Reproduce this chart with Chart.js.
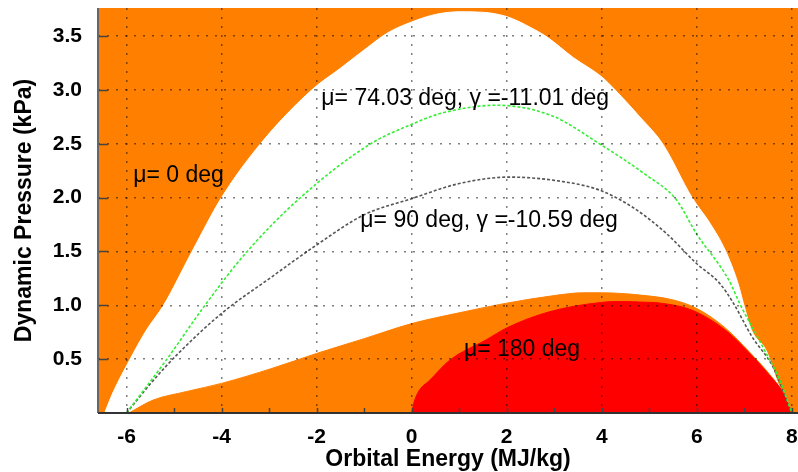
<!DOCTYPE html>
<html>
<head>
<meta charset="utf-8">
<script src="https://cdn.jsdelivr.net/npm/chart.js@4/dist/chart.umd.min.js"></script>
<style>
  html, body { margin: 0; padding: 0; background: #fff; }
  canvas { display: block; }
</style>
</head>
<body>
<canvas id="myChart" width="798" height="472"></canvas>
<script>
// μ = 0 deg envelope (upper edge of the white corridor)
const envX = [-6.46, -6.29, -5.9, -5.58, -5.22, -4.62, -4.0, -3.18, -2.1, -1.5, -1.0, -0.5, 0, 0.5, 1.0, 1.5, 2.0, 2.5, 2.85, 3.4, 4.0, 4.28, 4.8, 5.28, 5.9, 6.28, 6.6, 6.87, 6.98, 7.15, 7.46, 7.71, 7.92, 8.0];
const envY = [0, 0.185, 0.52, 0.77, 1.0, 1.5, 2.0, 2.5, 3.0, 3.2, 3.37, 3.53, 3.63, 3.7, 3.725, 3.72, 3.68, 3.58, 3.49, 3.3, 3.12, 3.0, 2.75, 2.5, 2.0, 1.76, 1.51, 1.2, 1.02, 0.77, 0.58, 0.275, 0.09, 0];

// lower edge of the white corridor
const floorX = [-5.95, -5.44, -4.73, -4.0, -2.94, -2.0, -1.0, 0, 1.0, 2.0, 3.0, 3.6, 4.0, 4.8, 5.5, 6.0, 6.6, 7.1, 7.55, 7.8, 8.0];
const floorY = [0, 0.12, 0.2, 0.275, 0.414, 0.553, 0.69, 0.83, 0.93, 1.02, 1.09, 1.116, 1.116, 1.095, 1.05, 0.97, 0.79, 0.57, 0.35, 0.2, 0];

// μ = 180 deg region
const retroX = [0, 0.05, 0.16, 0.37, 0.8, 1.57, 2.0, 2.9, 4.0, 4.5, 4.8, 5.24, 5.9, 6.6, 7.1, 7.55, 7.8, 8.0];
const retroY = [0, 0.1, 0.21, 0.3, 0.49, 0.68, 0.79, 0.94, 1.027, 1.035, 1.03, 1.02, 0.955, 0.77, 0.56, 0.34, 0.2, 0];

// μ = 74.03 deg, γ = -11.01 deg
const greenX = [-6.0, -5.15, -4.35, -3.5, -2.34, -0.86, 0, 0.6, 1.78, 2.95, 3.95, 4.9, 5.57, 5.99, 6.68, 6.9, 7.43, 7.75, 8.0];
const greenY = [0, 0.5, 1.0, 1.48, 2.0, 2.5, 2.68, 2.78, 2.857, 2.76, 2.5, 2.22, 1.98, 1.667, 1.23, 1.02, 0.58, 0.3, 0];

// μ = 90 deg, γ = -10.59 deg
const grayX = [-6.0, -5.44, -4.94, -4.0, -2.94, -2.0, -1.0, 0, 1.0, 2.05, 3.0, 3.95, 4.65, 5.36, 5.99, 6.49, 6.77, 7.16, 7.6, 8.0];
const grayY = [0, 0.3, 0.54, 0.924, 1.265, 1.56, 1.84, 1.99, 2.13, 2.19, 2.16, 2.07, 1.91, 1.667, 1.39, 1.2, 1.02, 0.71, 0.43, 0];

const xTicks = [-6, -4, -2, 0, 2, 4, 6, 8];
const yTicks = [0.5, 1.0, 1.5, 2.0, 2.5, 3.0, 3.5];

const notes = [
    { text: 'μ= 0 deg', x: -5.86, y: 2.2 },
    { text: 'μ= 74.03 deg, γ =-11.01 deg', x: -1.9, y: 2.92 },
    { text: 'μ= 90 deg, γ =-10.59 deg', x: -1.08, y: 1.79 },
    { text: 'μ= 180 deg', x: 1.1, y: 0.585 }
];

const toPts = (xs, ys) => xs.map((x, i) => ({ x: x, y: ys[i] }));
const FONT = '"Liberation Sans", Arial, Helvetica, sans-serif';
const ORANGE = 'rgb(255, 128, 0)';

// fondo naranja del área de trazado + ejes + textos + marcas interiores
const decor = {
    id: 'decor',
    beforeDraw(chart) {
        const a = chart.chartArea, ctx = chart.ctx;
        ctx.save();
        ctx.fillStyle = ORANGE;
        ctx.fillRect(a.left, a.top, a.right - a.left, a.bottom - a.top);
        ctx.restore();
    },
    afterDraw(chart) {
        const ctx = chart.ctx, xs = chart.scales.x, ys = chart.scales.y, a = chart.chartArea;
        ctx.save();
        ctx.strokeStyle = '#444';
        ctx.lineWidth = 1.5;
        ctx.beginPath();
        yTicks.forEach(v => {
            const py = Math.round(ys.getPixelForValue(v)) + 0.5;
            ctx.moveTo(a.left, py); ctx.lineTo(a.left + 10, py);
        });
        for (let v = -6; v <= 8; v++) {
            const px = Math.round(xs.getPixelForValue(v)) + 0.5;
            ctx.moveTo(px, a.bottom); ctx.lineTo(px, a.bottom - 5);
        }
        ctx.stroke();
        // ejes
        ctx.lineWidth = 2;
        ctx.strokeStyle = '#666';
        ctx.beginPath();
        ctx.moveTo(a.left, a.top); ctx.lineTo(a.left, a.bottom);
        ctx.stroke();
        ctx.strokeStyle = '#333';
        ctx.beginPath();
        ctx.moveTo(a.left, a.bottom); ctx.lineTo(a.right, a.bottom);
        ctx.stroke();
        ctx.fillStyle = '#000';
        ctx.font = '23px ' + FONT;
        ctx.textBaseline = 'middle';
        ctx.textAlign = 'left';
        notes.forEach(n => {
            ctx.fillText(n.text, xs.getPixelForValue(n.x), ys.getPixelForValue(n.y));
        });
        ctx.restore();
    }
};

const area = (pts, color, order) => ({
    data: pts, fill: 'origin', backgroundColor: color, borderColor: color,
    borderWidth: 1, pointRadius: 0, cubicInterpolationMode: 'monotone', order: order
});

const ctx = document.getElementById('myChart').getContext('2d');
new Chart(ctx, {
    type: 'line',
    data: {
        datasets: [
            area(toPts(envX, envY), '#ffffff', 5),
            area(toPts(floorX, floorY), ORANGE, 4),
            area(toPts(retroX, retroY), 'rgb(255, 0, 0)', 3),
            {
                data: toPts(grayX, grayY), borderColor: '#555555', borderWidth: 1.6,
                borderDash: [3, 2], pointRadius: 0, fill: false,
                cubicInterpolationMode: 'monotone', order: 2
            },
            {
                data: toPts(greenX, greenY), borderColor: '#33ee33', borderWidth: 1.6,
                borderDash: [3, 2], pointRadius: 0, fill: false,
                cubicInterpolationMode: 'monotone', order: 1
            }
        ]
    },
    options: {
        responsive: false,
        animation: false,
        layout: { padding: { top: 8, right: 0, left: 0, bottom: 0 } },
        plugins: { legend: { display: false }, tooltip: { enabled: false } },
        scales: {
            x: {
                type: 'linear', min: -6.6, max: 8.13, z: 1,
                afterBuildTicks: (axis) => { axis.ticks = xTicks.map(v => ({ value: v })); },
                afterFit: (scale) => {
                    scale.height = 59;
                    scale.paddingLeft = 0; scale.paddingRight = 0;
                },
                grid: { color: 'rgba(0,0,0,0.5)', lineWidth: 1.5, drawTicks: false, z: 1 },
                border: { display: false, dash: [2, 7] },
                ticks: { color: '#000', padding: 12, maxRotation: 0,
                    font: { family: FONT, size: 21, weight: 'bold' } },
                title: { display: true, text: 'Orbital Energy (MJ/kg)', color: '#000',
                    font: { family: FONT, size: 23, weight: 'bold', lineHeight: 1 },
                    padding: { top: 0, bottom: 1 } }
            },
            y: {
                min: 0, max: 3.76, z: 1,
                afterBuildTicks: (axis) => { axis.ticks = yTicks.map(v => ({ value: v })); },
                afterFit: (scale) => {
                    scale.width = 98;
                    scale.paddingTop = 0; scale.paddingBottom = 0;
                },
                grid: { color: 'rgba(0,0,0,0.5)', lineWidth: 1.5, drawTicks: false, z: 1 },
                border: { display: false, dash: [2, 7] },
                ticks: { color: '#000', padding: 16, callback: v => v.toFixed(1),
                    font: { family: FONT, size: 21, weight: 'bold' } },
                title: { display: true, text: 'Dynamic Pressure (kPa)', color: '#000',
                    font: { family: FONT, size: 23, weight: 'bold', lineHeight: 1.2 },
                    padding: { top: 11, bottom: 0 } }
            }
        }
    },
    plugins: [decor]
});
</script>
</body>
</html>
